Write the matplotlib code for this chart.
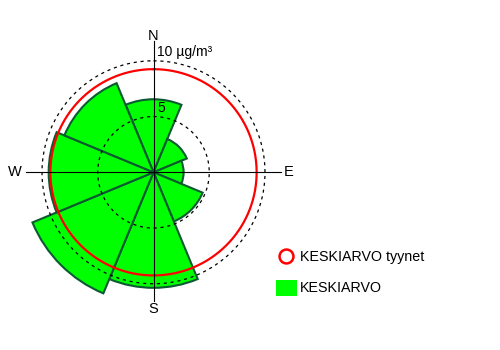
import numpy as np
import matplotlib
matplotlib.use("Agg")
import matplotlib.pyplot as plt
from matplotlib.lines import Line2D
from matplotlib.patches import Rectangle

plt.rcParams['font.family'] = ['Liberation Sans', 'DejaVu Sans']

# --- data ---
directions = ['N', 'NE', 'E', 'SE', 'S', 'SW', 'W', 'NW']
direction_deg = [0, 45, 90, 135, 180, 225, 270, 315]
keskiarvo = [6.55, 3.23, 2.7, 4.77, 10.36, 11.75, 9.4, 8.65]
keskiarvo_tyynet = 9.25
ring_values = [5, 10]
ring_labels = ['5', '10 µg/m³']
compass_labels = ['N', 'E', 'S', 'W']
legend_labels = ['KESKIARVO tyynet', 'KESKIARVO']

W, H = 500, 350
fig = plt.figure(figsize=(W / 100, H / 100), dpi=100)

cx, cy = 153.5, 172.3          # centre in pixels (from top-left)
px_per_unit = 11.15
rmax = 12.0
rad_px = rmax * px_per_unit
ax = fig.add_axes([(cx - rad_px) / W, 1 - (cy + rad_px) / H,
                   2 * rad_px / W, 2 * rad_px / H], projection='polar')
ax.set_theta_zero_location('N')
ax.set_theta_direction(-1)
ax.set_ylim(0, rmax)
ax.grid(False)
ax.set_xticks([])
ax.set_yticks([])
ax.spines['polar'].set_visible(False)
ax.patch.set_alpha(0)

theta = np.radians(direction_deg)
ax.bar(theta, keskiarvo, width=np.radians(45), bottom=0,
       color='#00ff00', edgecolor='#0b5a32', linewidth=1.5, zorder=2)

tt = np.linspace(0, 2 * np.pi, 400)
for rv in ring_values:
    ax.plot(tt, np.full_like(tt, rv), color='black', lw=0.9,
            ls=(0, (2.5, 3)), zorder=3)
ax.plot(tt, np.full_like(tt, keskiarvo_tyynet), color='#ff0000', lw=1.6, zorder=4)

# axis cross
ax.plot([np.pi / 2, np.pi / 2], [0, 11.45], color='black', lw=0.8, zorder=5)
ax.plot([3 * np.pi / 2, 3 * np.pi / 2], [0, 11.45], color='black', lw=0.8, zorder=5)
ax.plot([0, 0], [0, 11.8], color='black', lw=0.8, zorder=5, clip_on=False)
ax.plot([np.pi, np.pi], [0, 11.5], color='black', lw=0.8, zorder=5)

# ring labels
for rv, lab in zip(ring_values, ring_labels):
    ax.annotate(lab, xy=(0, rv), xytext=(2.5, 1.2), textcoords='offset points',
                ha='left', va='bottom', fontsize=10, color='black', zorder=6)

# compass labels
comp_pos = {'N': (0, 12.2), 'E': (90, 12.1), 'S': (180, 12.25), 'W': (270, 12.45)}
for lab in compass_labels:
    a, r = comp_pos[lab]
    ax.text(np.radians(a), r, lab, ha='center', va='center', fontsize=10.5,
            color='black', clip_on=False)

# legend
fig.add_artist(Line2D([286 / W], [1 - 256 / H], marker='o', markersize=10,
                      mfc='white', mec='#ff0000', mew=1.8, ls='none',
                      transform=fig.transFigure))
fig.add_artist(Rectangle((276 / W, 1 - 295.5 / H), 20.5 / W, 16 / H,
                         facecolor='#00ff00', edgecolor='none',
                         transform=fig.transFigure))
fig.text(299.5 / W, 1 - 256.5 / H, legend_labels[0], ha='left', va='center',
         fontsize=10.3, color='black')
fig.text(299.5 / W, 1 - 287.5 / H, legend_labels[1], ha='left', va='center',
         fontsize=10.3, color='black')

fig.savefig('out.png', dpi=100, facecolor='white')
